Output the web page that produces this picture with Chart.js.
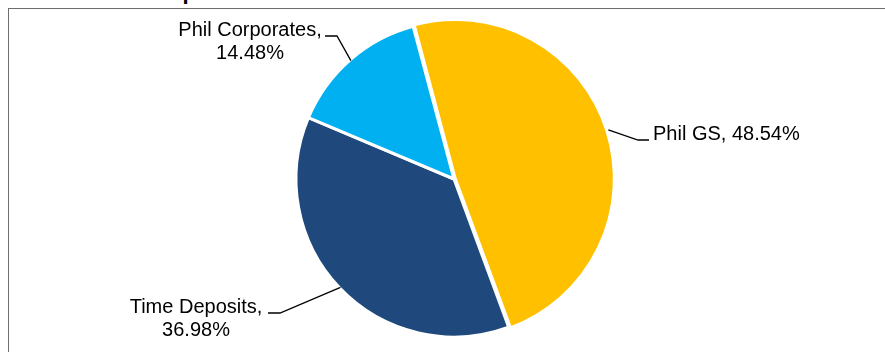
<!DOCTYPE html>
<html>
<head>
<meta charset="utf-8">
<script src="https://cdn.jsdelivr.net/npm/chart.js@4"></script>
<style>
  html, body { margin: 0; padding: 0; background: #fff; overflow: hidden; }
  #wrap { position: relative; width: 885px; height: 352px; overflow: hidden; }
  #frame { position: absolute; left: 8px; top: 8px; width: 900px; height: 400px;
           border-top: 1px solid #6e6e6e; border-left: 1px solid #6e6e6e; }
  #title { position: absolute; left: 37px; top: -19px; font: bold 22px "Liberation Sans", Arial, sans-serif;
           line-height: 22px; color: #000; white-space: nowrap; }
  canvas { position: absolute; left: 0; top: 0; }
</style>
</head>
<body>
<div id="wrap">
  <div id="title">Portfolio Composition</div>
  <div id="frame"></div>
  <canvas id="c" width="885" height="352"></canvas>
</div>
<script>
const categories = ["Phil GS", "Time Deposits", "Phil Corporates"];
const values = [48.54, 36.98, 14.48];
const valueLabels = ["48.54%", "36.98%", "14.48%"];
const colors = ["#FFC000", "#1F497D", "#00B0F0"];

// label layout (relative to pie centre): elbow point, line end, text anchor
const labelLayout = [
  { elbow: [184, -39], end: [195, -39], text: [199, -39], align: "left", lines: (c, v) => [c + ", " + v] },
  { elbow: [-174, 134], end: [-186, 134], text: [-258, 134], align: "center", lines: (c, v) => [c + ",", v] },
  { elbow: [-117, -143], end: [-129, -143], text: [-204, -143], align: "center", lines: (c, v) => [c + ",", v] }
];

const labelPlugin = {
  id: "leaderLabels",
  afterDatasetsDraw(chart) {
    const ctx = chart.ctx;
    const meta = chart.getDatasetMeta(0);
    ctx.save();
    ctx.font = '20px "Liberation Sans", Arial, sans-serif';
    ctx.fillStyle = "#000";
    ctx.strokeStyle = "#000";
    ctx.lineWidth = 1.3;
    meta.data.forEach((arc, i) => {
      const p = arc.getProps(["x", "y", "startAngle", "endAngle", "outerRadius"], true);
      const mid = (p.startAngle + p.endAngle) / 2;
      const off = chart.data.datasets[0].offset[i] || 0;
      const cx = p.x, cy = p.y;
      const ex = cx + Math.cos(mid) * (p.outerRadius + off - 1);
      const ey = cy + Math.sin(mid) * (p.outerRadius + off - 1);
      const L = labelLayout[i];
      ctx.beginPath();
      ctx.moveTo(ex, ey);
      ctx.lineTo(cx + L.elbow[0], cy + L.elbow[1]);
      ctx.lineTo(cx + L.end[0], cy + L.end[1]);
      ctx.stroke();
      ctx.textAlign = L.align;
      ctx.textBaseline = "alphabetic";
      const lines = L.lines(categories[i], valueLabels[i]);
      lines.forEach((t, k) => {
        ctx.fillText(t, cx + L.text[0], cy + L.text[1] + k * 23);
      });
    });
    ctx.restore();
  }
};

new Chart(document.getElementById("c"), {
  type: "pie",
  data: {
    labels: categories,
    datasets: [{
      data: values,
      backgroundColor: colors,
      borderColor: "#ffffff",
      borderWidth: 3,
      offset: [5, 0, 0],
      hoverOffset: 0
    }]
  },
  options: {
    responsive: false,
    animation: false,
    rotation: -15,
    radius: 158,
    layout: { padding: { left: 23, right: 0, top: 6, bottom: 0 } },
    plugins: {
      legend: { display: false },
      tooltip: { enabled: false },
      title: { display: false }
    },
    events: []
  },
  plugins: [labelPlugin]
});
</script>
</body>
</html>
